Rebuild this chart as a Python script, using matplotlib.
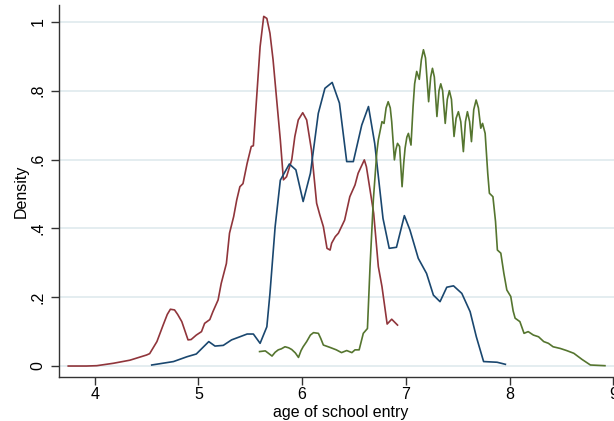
import matplotlib
matplotlib.use("Agg")
import matplotlib.pyplot as plt

# ---- data ----
red_x = [3.745, 3.92, 4.02, 4.18, 4.34, 4.50, 4.53, 4.60, 4.66, 4.70, 4.73, 4.77, 4.80, 4.84,
         4.90, 4.93, 4.98, 5.03, 5.06, 5.11, 5.14, 5.19, 5.22, 5.27, 5.30, 5.34, 5.37, 5.40,
         5.43, 5.47, 5.51, 5.53, 5.56, 5.595, 5.63, 5.66, 5.69, 5.72, 5.755, 5.79, 5.82, 5.85,
         5.90, 5.93, 5.963, 6.006, 6.044, 6.09, 6.14, 6.17, 6.205, 6.24, 6.27, 6.285, 6.32,
         6.35, 6.38, 6.41, 6.46, 6.51, 6.54, 6.60, 6.62, 6.655, 6.69, 6.735, 6.77, 6.82,
         6.864, 6.92]
red_y = [0.0, 0.0, 0.001, 0.008, 0.017, 0.032, 0.036, 0.071, 0.119, 0.150, 0.165, 0.163, 0.150,
         0.129, 0.076, 0.077, 0.090, 0.100, 0.124, 0.135, 0.158, 0.192, 0.240, 0.298, 0.386,
         0.434, 0.483, 0.521, 0.530, 0.589, 0.638, 0.640, 0.773, 0.928, 1.016, 1.010, 0.967,
         0.890, 0.773, 0.657, 0.541, 0.550, 0.599, 0.667, 0.715, 0.736, 0.715, 0.628, 0.473,
         0.440, 0.405, 0.342, 0.337, 0.357, 0.376, 0.386, 0.405, 0.424, 0.492, 0.526, 0.560,
         0.599, 0.579, 0.512, 0.444, 0.289, 0.231, 0.122, 0.136, 0.119]

blue_x = [4.55, 4.76, 4.89, 4.98, 5.10, 5.16, 5.24, 5.32, 5.40, 5.47, 5.53, 5.595, 5.66, 5.69,
          5.74, 5.79, 5.877, 5.94, 6.01, 6.08, 6.156, 6.22, 6.29, 6.36, 6.43, 6.494, 6.575,
          6.64, 6.70, 6.78, 6.84, 6.91, 6.986, 7.04, 7.12, 7.20, 7.266, 7.33, 7.395, 7.46,
          7.54, 7.62, 7.68, 7.75, 7.88, 7.96]
blue_y = [0.003, 0.013, 0.027, 0.035, 0.071, 0.058, 0.060, 0.076, 0.085, 0.093, 0.093, 0.066,
          0.114, 0.211, 0.405, 0.540, 0.587, 0.570, 0.478, 0.560, 0.734, 0.807, 0.824, 0.764,
          0.594, 0.594, 0.700, 0.754, 0.647, 0.429, 0.342, 0.345, 0.437, 0.395, 0.313, 0.269,
          0.206, 0.187, 0.229, 0.233, 0.211, 0.158, 0.085, 0.013, 0.011, 0.005]

green_x = [5.59, 5.645, 5.68, 5.71, 5.74, 5.77, 5.80, 5.835, 5.87, 5.90, 5.935, 5.965, 5.99,
           6.01, 6.044, 6.08, 6.11, 6.157, 6.18, 6.205, 6.27, 6.33, 6.38, 6.43, 6.48, 6.51,
           6.55, 6.59, 6.63, 6.655, 6.687, 6.72, 6.735, 6.77, 6.79, 6.81, 6.83, 6.85, 6.864,
           6.89, 6.905, 6.92, 6.94, 6.964, 6.98, 6.993, 7.01, 7.025, 7.05, 7.07, 7.085, 7.105,
           7.13, 7.15, 7.17, 7.19, 7.22, 7.24, 7.257, 7.275, 7.30, 7.32, 7.337, 7.355, 7.38,
           7.40, 7.42, 7.44, 7.465, 7.485, 7.507, 7.53, 7.555, 7.575, 7.594, 7.615, 7.633,
           7.655, 7.678, 7.70, 7.723, 7.74, 7.765, 7.79, 7.806, 7.84, 7.865, 7.883, 7.916,
           7.945, 7.974, 8.012, 8.035, 8.054, 8.10, 8.14, 8.18, 8.23, 8.28, 8.33, 8.375, 8.42,
           8.49, 8.55, 8.62, 8.70, 8.78, 8.92]
green_y = [0.042, 0.044, 0.036, 0.029, 0.040, 0.047, 0.050, 0.056, 0.053, 0.048, 0.038, 0.025,
           0.045, 0.056, 0.071, 0.090, 0.097, 0.095, 0.080, 0.061, 0.054, 0.047, 0.039, 0.045,
           0.039, 0.047, 0.047, 0.095, 0.109, 0.289, 0.483, 0.620, 0.657, 0.710, 0.705, 0.750,
           0.768, 0.750, 0.710, 0.599, 0.630, 0.647, 0.638, 0.521, 0.590, 0.633, 0.665, 0.676,
           0.642, 0.754, 0.820, 0.856, 0.833, 0.890, 0.919, 0.895, 0.768, 0.840, 0.865, 0.840,
           0.725, 0.800, 0.820, 0.800, 0.705, 0.775, 0.800, 0.775, 0.667, 0.720, 0.739, 0.710,
           0.623, 0.710, 0.739, 0.710, 0.652, 0.745, 0.773, 0.750, 0.691, 0.705, 0.676, 0.560,
           0.502, 0.492, 0.420, 0.337, 0.328, 0.270, 0.221, 0.202, 0.160, 0.139, 0.129, 0.095,
           0.100, 0.090, 0.085, 0.071, 0.066, 0.056, 0.051, 0.045, 0.037, 0.019, 0.003, 0.001]

x_ticks = [4, 5, 6, 7, 8, 9]
y_ticks = [0, 0.2, 0.4, 0.6, 0.8, 1.0]
y_tick_labels = ["0", ".2", ".4", ".6", ".8", "1"]

plt.rcParams['font.family'] = ['Liberation Sans', 'DejaVu Sans']

fig = plt.figure(figsize=(6.14, 4.21), dpi=100)
ax = fig.add_axes([58.7 / 614, 44.3 / 421, (623.6 - 58.7) / 614, (376.7 - 5) / 421])

lw = 1.2
ax.plot(red_x, red_y, color='#90353b', lw=lw)
ax.plot(blue_x, blue_y, color='#1a476f', lw=lw)
ax.plot(green_x, green_y, color='#55752f', lw=lw)

ax.set_xlim(3.653, 9.1)
ax.set_ylim(-0.031, 1.049)

ax.set_xticks(x_ticks)
ax.set_yticks(y_ticks)
ax.set_yticklabels(y_tick_labels, rotation=90, va='center')

ax.grid(axis='y', color='#e4edf0', lw=1.4)
ax.set_axisbelow(True)

for s in ['top', 'right']:
    ax.spines[s].set_visible(False)
for s in ['left', 'bottom']:
    ax.spines[s].set_color('#333333')
    ax.spines[s].set_linewidth(1.0)

ax.tick_params(axis='both', direction='out', length=5.5, width=1.0, color='#333333',
               labelsize=11.5, labelcolor='black')
ax.tick_params(axis='x', pad=2)
ax.tick_params(axis='y', pad=4)

ax.set_xlabel('age of school entry', fontsize=11.5, labelpad=2)
ax.set_ylabel('Density', fontsize=11.5, labelpad=1)

fig.savefig('out.png', dpi=100)
